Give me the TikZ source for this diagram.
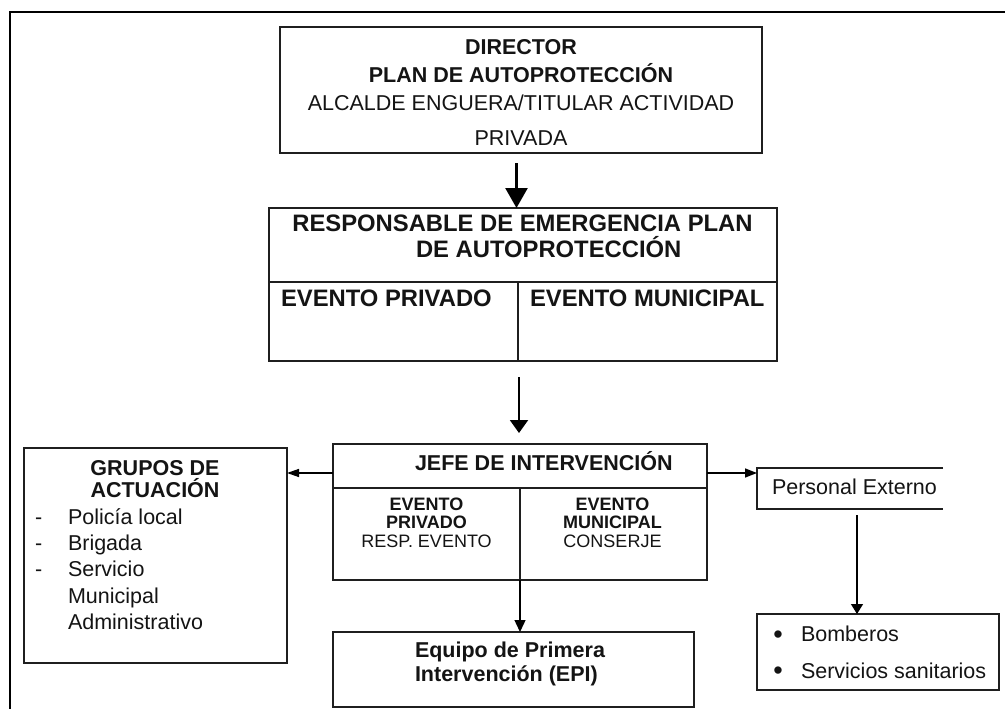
\documentclass[tikz,border=0pt]{standalone}
\usepackage{fontspec}
\setmainfont{Liberation Sans}
\usetikzlibrary{arrows.meta}
\begin{document}
\begin{tikzpicture}[x=1pt,y=-1pt,
  box/.style={draw=black!88, line width=1.6pt, inner sep=0pt, outer sep=0pt, anchor=north west},
  txt/.style={inner sep=0pt, outer sep=0pt, anchor=base, text=black!92, font=\fontsize{21.5pt}{26pt}\selectfont},
  btxt/.style={txt, font=\fontsize{21.5pt}{26pt}\selectfont\bfseries},
  bigb/.style={txt, font=\fontsize{23.8pt}{28pt}\selectfont\bfseries},
  smalltxt/.style={txt, font=\fontsize{18pt}{20pt}\selectfont},
  smallb/.style={txt, font=\fontsize{18pt}{20pt}\selectfont\bfseries},
  bullettxt/.style={txt, font=\fontsize{27pt}{28pt}\selectfont},
  conn/.style={draw=black, line width=1.4pt},
  divider/.style={draw=black!88, line width=1.4pt}
]
\useasboundingbox (0,0) rectangle (1005,709);
\fill[white] (0,0) rectangle (1005,709);
% outer frame
\draw[line width=2.8pt] (10,709) -- (10,12) -- (1005,12);

% boxes
\node[box, minimum width=482pt, minimum height=126pt] (dir) at (280,27) {};
\node[box, minimum width=508pt, minimum height=153pt] (resp) at (269,208) {};
\node[box, minimum width=374pt, minimum height=136pt] (jefe) at (333,444) {};
\node[box, minimum width=361pt, minimum height=75pt] (epi) at (333,632) {};
\node[box, minimum width=263pt, minimum height=215pt] (grupos) at (24,448) {};
\node[inner sep=0pt, outer sep=0pt, anchor=north west, minimum width=186pt, minimum height=41pt] (pe) at (757,468) {};
\draw[divider, line width=1.6pt] (pe.north east) -- (pe.north west) -- (pe.south west) -- (pe.south east);
\node[box, minimum width=242pt, minimum height=76pt] (bomb) at (757,614) {};

% dividers
\draw[divider] (resp.west |- 0,282) -- (resp.east |- 0,282);
\draw[divider] (518,282) -- (resp.south -| 518,0);
\draw[divider] (jefe.west |- 0,488) -- (jefe.east |- 0,488);
\draw[divider] (520,488) -- (jefe.south -| 520,0);

% director text
\node[btxt] (t1) at (521,55) {DIRECTOR};
\node[btxt] (t2) at (521,82.6) {PLAN DE AUTOPROTECCIÓN};
\node[txt] (t3) at (521,110.7) {ALCALDE ENGUERA/TITULAR ACTIVIDAD};
\node[txt] (t4) at (521,146) {PRIVADA};

% responsable text
\node[bigb] (r1) at (522.5,231.5) {RESPONSABLE DE EMERGENCIA PLAN};
\node[bigb, anchor=base west] (r2) at (416,257) {DE AUTOPROTECCIÓN};
\node[bigb, anchor=base west] (r3) at (281,306) {EVENTO PRIVADO};
\node[bigb, anchor=base west] (r4) at (530,306) {EVENTO MUNICIPAL};

% jefe text
\node[btxt, anchor=base west] (j1) at (415,470) {JEFE DE INTERVENCIÓN};
\node[smallb] (j2) at (426.5,510) {EVENTO};
\node[smallb] (j3) at (426.5,528) {PRIVADO};
\node[smalltxt] (j4) at (426.5,547) {RESP. EVENTO};
\node[smallb] (j5) at (612.5,510) {EVENTO};
\node[smallb] (j6) at (612.5,528) {MUNICIPAL};
\node[smalltxt] (j7) at (612.5,547) {CONSERJE};

% EPI text
\node[btxt, anchor=base west] (e1) at (415,657) {Equipo de Primera};
\node[btxt, anchor=base west] (e2) at (415,681) {Intervención (EPI)};

% grupos text
\node[btxt] (g1) at (155,475) {GRUPOS DE};
\node[btxt] (g2) at (155,497) {ACTUACIÓN};
\node[txt, anchor=base west] (gd1) at (35,524.3) {-};
\node[txt, anchor=base west] (gd2) at (35,550.7) {-};
\node[txt, anchor=base west] (gd3) at (35,576.7) {-};
\node[txt, anchor=base west] (g3) at (68,524.3) {Policía local};
\node[txt, anchor=base west] (g4) at (68,550.7) {Brigada};
\node[txt, anchor=base west] (g5) at (68,576.7) {Servicio};
\node[txt, anchor=base west] (g6) at (68,603.3) {Municipal};
\node[txt, anchor=base west] (g7) at (68,629.3) {Administrativo};

% personal externo
\node[txt, anchor=base west] (p1) at (772,494.3) {Personal Externo};

% bomberos
\node[bullettxt] (bb1) at (778,643) {•};
\node[bullettxt] (bb2) at (778,679.6) {•};
\node[txt, anchor=base west] (b1) at (801,641.7) {Bomberos};
\node[txt, anchor=base west] (b2) at (801,678.3) {Servicios sanitarios};

% connectors
\coordinate (a1s) at (516.5,163);
\draw[conn, line width=2.5pt, -{Triangle[length=20pt,width=22pt]}] (a1s) -- (a1s |- resp.north);
\coordinate (a2s) at (519,377);
\draw[conn, line width=2pt, -{Triangle[length=13pt,width=18pt]}, shorten >=11pt] (a2s) -- (a2s |- jefe.north);
\draw[conn, -{Triangle[length=12pt,width=11pt]}] (jefe.south -| 520,0) -- (epi.north -| 520,0);
\coordinate (jl) at (333,473);
\draw[conn, -{Triangle[length=12pt,width=8pt]}] (jl) -- (jl -| grupos.east);
\coordinate (jr) at (707,473);
\draw[conn, -{Triangle[length=12pt,width=9pt]}] (jr) -- (jr -| pe.west);
\coordinate (ps) at (857,515);
\draw[conn, -{Triangle[length=10pt,width=12pt]}] (ps) -- (ps |- bomb.north);
\end{tikzpicture}
\end{document}
